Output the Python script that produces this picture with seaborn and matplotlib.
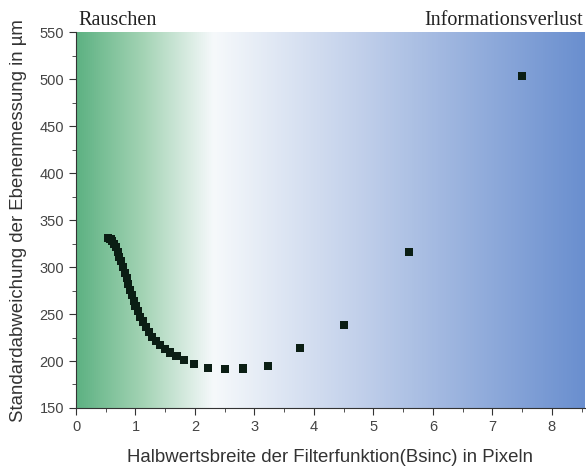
import numpy as np
import pandas as pd
import matplotlib
matplotlib.use('Agg')
import matplotlib.pyplot as plt
from matplotlib.colors import LinearSegmentedColormap
from matplotlib.ticker import MultipleLocator
import seaborn as sns

halbwertsbreite = [0.54, 0.58, 0.61, 0.64, 0.67, 0.70, 0.73, 0.76, 0.79, 0.82,
                   0.85, 0.88, 0.91, 0.94, 0.97, 1.00, 1.04, 1.08, 1.12, 1.17,
                   1.22, 1.28, 1.34, 1.41, 1.49, 1.58, 1.69, 1.82, 1.98, 2.22,
                   2.50, 2.80, 3.22, 3.76, 4.50, 5.60, 7.50]
std_abweichung = [331, 330, 328, 325, 321, 316, 311, 306, 300, 294,
                  288, 282, 276, 270, 264, 259, 253, 247, 242, 236,
                  231, 226, 221, 217, 213, 209, 205, 201, 197, 193,
                  191.5, 192, 195, 214, 238, 316, 503]

df = pd.DataFrame({'x': halbwertsbreite, 'y': std_abweichung})

sns.set_style('ticks')
plt.rcParams['font.family'] = ['Liberation Sans', 'DejaVu Sans']

fig = plt.figure(figsize=(5.86, 4.66), dpi=100)
ax = fig.add_axes([0.1297, 0.1245, 0.868, 0.8065])

xmax = 8.55
# Hintergrund-Verlauf: gruen (Rauschen) -> weiss -> blau (Informationsverlust)
cmap = LinearSegmentedColormap.from_list('bg', [
    (0.0, '#5db282'), (0.13, '#a3d3b4'), (0.27, '#f6f9fb'),
    (0.55, '#c3d1eb'), (1.0, '#6a8fcf')])
grad = np.linspace(0, 1, 512).reshape(1, -1)
ax.imshow(grad, extent=[0, xmax, 150, 550], aspect='auto', cmap=cmap,
          zorder=0)

sns.scatterplot(data=df, x='x', y='y', marker='s', color='#0b1e14', s=34,
                edgecolor='none', ax=ax, zorder=3)

ax.set_xlim(0, xmax)
ax.set_ylim(150, 550)
ax.xaxis.set_major_locator(MultipleLocator(1))
ax.xaxis.set_minor_locator(MultipleLocator(0.5))
ax.yaxis.set_major_locator(MultipleLocator(50))
ax.yaxis.set_minor_locator(MultipleLocator(25))
ax.tick_params(which='both', direction='out', colors='#333333', labelsize=10.5,
               labelcolor='#444444')
ax.tick_params(which='major', length=5)
ax.tick_params(which='minor', length=3)
sns.despine(ax=ax)
for s in ['left', 'bottom']:
    ax.spines[s].set_color('#333333')

ax.set_xlabel('Halbwertsbreite der Filterfunktion(Bsinc) in Pixeln',
              fontsize=13.4, color='#333333', labelpad=11)
ax.set_ylabel('Standardabweichung der Ebenenmessung in µm',
              fontsize=13.4, color='#333333', labelpad=9)

fig.text(0.133, 0.957, 'Rauschen', family='Liberation Serif', fontsize=14.5,
         color='#222222', va='center', ha='left')
fig.text(0.995, 0.957, 'Informationsverlust', family='Liberation Serif',
         fontsize=14.5, color='#222222', va='center', ha='right')

fig.savefig('out.png', dpi=100)
